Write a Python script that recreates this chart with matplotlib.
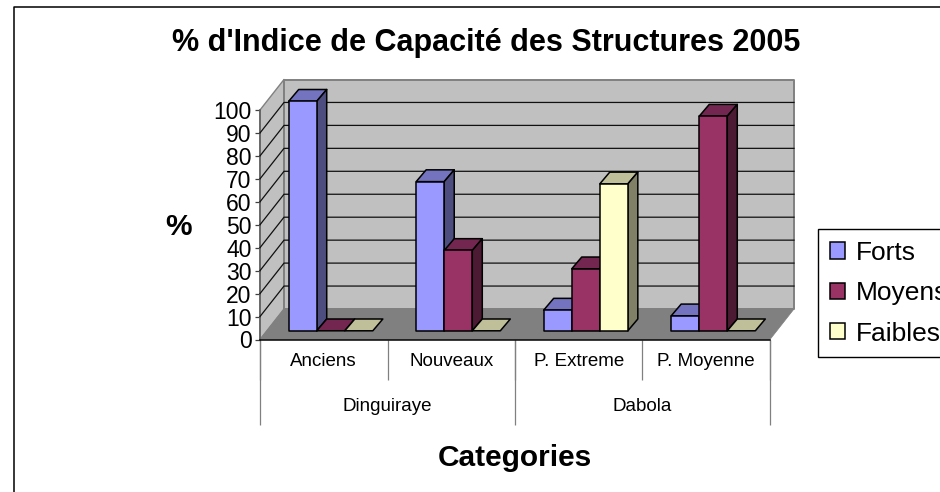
import numpy as np
import matplotlib
matplotlib.use("Agg")
import matplotlib.pyplot as plt
from matplotlib.lines import Line2D
from matplotlib.patches import Patch, Polygon
from matplotlib.transforms import Affine2D

plt.rcParams['font.family'] = ['Liberation Sans', 'DejaVu Sans']

SUB_LABELS = ["Anciens", "Nouveaux", "P. Extreme", "P. Moyenne"]
GROUP_LABELS = ["Dinguiraye", "Dabola"]
SERIES = ["Forts", "Moyens", "Faibles"]
FORTS = [100, 65, 9, 6.5]
MOYENS = [0, 35, 27, 93.5]
FAIBLES = [0, 0, 64, 0]
Y_TICKS = list(range(0, 101, 10))

# front, top, side colours per series
COLORS = [("#9999FF", "#7373BF", "#4D4D80"),
          ("#993366", "#732650", "#4D1A33"),
          ("#FFFFCC", "#BFBF99", "#808066")]

W, H = 940, 492
FLOOR_Y = 339.5
TOP_Y = 110
LEFT_X, RIGHT_X = 260, 770
WALL_DEPTH = (24, 30.5)   # px offset of back wall from the front plane
BAR_NEAR = (7, 8.7)       # px offset of the bars' front faces
BAR_FAR = (17, 20.5)      # px offset of the bars' back faces
BAR_W = 0.22
BAR_START = 0.17
LW = 1.1

fig = plt.figure(figsize=(W / 100, H / 100), dpi=100, facecolor="white")
ax = fig.add_axes([LEFT_X / W, 1 - FLOOR_Y / H, (RIGHT_X - LEFT_X) / W, (FLOOR_Y - TOP_Y) / H])
ax.set_xlim(0, len(SUB_LABELS))
ax.set_ylim(0, 100)
ax.patch.set_visible(False)


def shifted(off):
    return Affine2D().translate(off[0], off[1]) + fig.dpi_scale_trans.inverted() + fig.dpi_scale_trans


def depth_tf(off):
    return ax.transData + Affine2D().translate(off[0], off[1])


def face(pts, color, edge, lw, z):
    # pts are (x, y, depth offset) in data coords plus a pixel offset
    disp = [depth_tf(o).transform((x, y)) for x, y, o in pts]
    ax.add_patch(Polygon(disp, closed=True, transform=None, facecolor=color, edgecolor=edge,
                         linewidth=lw, joinstyle="round", clip_on=False, zorder=z))


zero = (0, 0)
xmax = len(SUB_LABELS)

# walls and floor
face([(0, 0, zero), (0, 100, zero), (0, 100, WALL_DEPTH), (0, 0, WALL_DEPTH)], "#C0C0C0", "#808080", 1.0, 1)
face([(0, 0, WALL_DEPTH), (0, 100, WALL_DEPTH), (xmax, 100, WALL_DEPTH), (xmax, 0, WALL_DEPTH)], "#C0C0C0", "#808080", 1.4, 1)
face([(0, 0, zero), (xmax, 0, zero), (xmax, 0, WALL_DEPTH), (0, 0, WALL_DEPTH)], "#808080", "#808080", 0.5, 2)

# gridlines run across the left wall and then along the back wall
for val in Y_TICKS[1:-1]:
    a = depth_tf(zero).transform((0, val))
    b = depth_tf(WALL_DEPTH).transform((0, val))
    c = depth_tf(WALL_DEPTH).transform((xmax, val))
    ax.add_line(Line2D([a[0], b[0], c[0]], [a[1], b[1], c[1]], transform=None,
                       color="#101010", linewidth=0.9, clip_on=False, zorder=3))

# bars
z = 10
for g in range(len(SUB_LABELS)):
    for s, vals in enumerate([FORTS, MOYENS, FAIBLES]):
        x0 = g + BAR_START + s * BAR_W
        x1 = x0 + BAR_W
        v = vals[g]
        front, top, side = COLORS[s]
        face([(x0, v, BAR_NEAR), (x1, v, BAR_NEAR), (x1, v, BAR_FAR), (x0, v, BAR_FAR)], top, "black", LW, z)
        if v > 0:
            face([(x1, 0, BAR_NEAR), (x1, v, BAR_NEAR), (x1, v, BAR_FAR), (x1, 0, BAR_FAR)], side, "black", LW, z)
            face([(x0, 0, BAR_NEAR), (x1, 0, BAR_NEAR), (x1, v, BAR_NEAR), (x0, v, BAR_NEAR)], front, "black", LW, z)
        z += 1

# axes furniture
for name in ("top", "right"):
    ax.spines[name].set_visible(False)
ax.spines["left"].set_color("#606060")
ax.spines["left"].set_linewidth(1.2)
ax.spines["bottom"].set_color("black")
ax.spines["bottom"].set_linewidth(1.1)
ax.spines["bottom"].set_zorder(30)

ax.set_yticks(Y_TICKS)
ax.tick_params(axis="y", length=3.6, width=0.9, color="#404040", pad=2.5, labelsize=16.5, labelcolor="black")

# two-level category axis
ax.set_xticks(range(len(SUB_LABELS) + 1), [""] * (len(SUB_LABELS) + 1))
ax.set_xticks(np.arange(len(SUB_LABELS)) + 0.5, SUB_LABELS, minor=True)
ax.tick_params(axis="x", which="major", length=29, width=0.9, color="#808080")
ax.tick_params(axis="x", which="minor", length=0, pad=10, labelsize=13.5)

outer = ax.secondary_xaxis("bottom")
outer.spines["bottom"].set_visible(False)
outer.set_xticks([0, 2, 4], ["", "", ""])
outer.set_xticks([1, 3], GROUP_LABELS, minor=True)
outer.tick_params(axis="x", which="major", length=61.5, width=0.9, color="#808080")
outer.tick_params(axis="x", which="minor", length=0, pad=42, labelsize=13.5)

fig.text(486 / W, 1 - 43 / H, "% d'Indice de Capacité des Structures 2005", ha="center", va="center",
         fontsize=22, fontweight="bold")
fig.text(515 / W, 1 - 458 / H, "Categories", ha="center", va="center", fontsize=21.5, fontweight="bold")
fig.text(178.5 / W, 1 - 227 / H, "%", ha="center", va="center", fontsize=21.5, fontweight="bold")

handles = [Patch(facecolor=c[0], edgecolor="black", linewidth=LW) for c in COLORS]
fig.legend(handles, SERIES, loc="upper left", bbox_to_anchor=(818 / W, 1 - 229 / H),
           bbox_transform=fig.transFigure, borderaxespad=0, fontsize=19, frameon=True, fancybox=False,
           edgecolor="black", framealpha=1, handlelength=0.58, handleheight=0.58, handletextpad=0.42,
           borderpad=0.45, labelspacing=0.62)

# outer chart frame, runs off the picture on the right and at the bottom
fig.add_artist(Line2D([14 / W, 14 / W, 1], [0, 1 - 7 / H, 1 - 7 / H], color="black", linewidth=1.1))

fig.savefig("out.png", dpi=100)
